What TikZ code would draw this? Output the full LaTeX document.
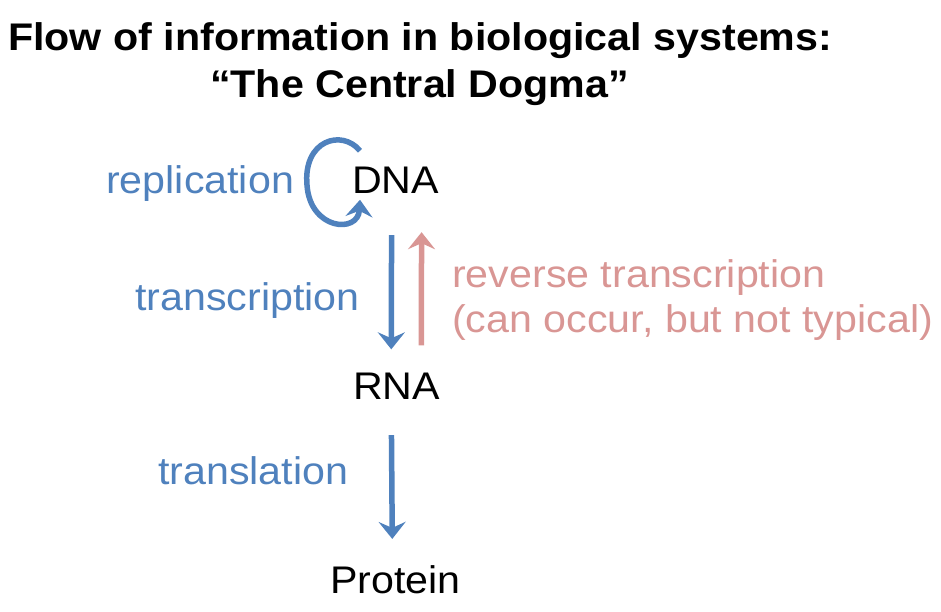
\documentclass[tikz,border=0pt]{standalone}
\usepackage{fontspec}
\setmainfont{Liberation Sans}[FakeStretch=1.07]
\usetikzlibrary{positioning}
\usetikzlibrary{arrows.meta}

\definecolor{flowblue}{RGB}{79,129,189}
\definecolor{flowpink}{RGB}{217,150,148}

\tikzset{
 word/.style={anchor=base west,inner sep=0pt,font=\fontsize{38.5}{45}\selectfont},
 headline/.style={word,font=\fontsize{38.5}{45}\selectfont\bfseries},
 flow/.style={draw=flowblue,line width=5.5pt,-{Stealth[length=17pt,width=27pt,inset=6pt]}},
 backflow/.style={flow,draw=flowpink}
}

\begin{document}
\begin{tikzpicture}[x=1pt,y=1pt]
 \useasboundingbox (0,0) rectangle (941,-611);
 \node[headline] (title1) at (8,-50) {Flow of information in biological systems:};
 \node[headline] (title2) at (210,-97) {``The Central Dogma''};
 \node[word] (dna) at (352,-193) {DNA};
 \node[word] (rna) at (353,-399) {RNA};
 \node[word] (protein) at (330,-593) {Protein};
 \node[word,text=flowblue] (repl) at (106,-193) {replication};
 \node[word,text=flowblue] (transcr) at (135,-310) {transcription};
 \node[word,text=flowblue] (transl) at (158,-484) {translation};
 \node[word,text=flowpink] (revtr) at (452,-287) {reverse transcription};
 \node[word,text=flowpink] (revnote) at (452,-332) {(can occur, but not typical)};
 % replication loop
 \draw[flow] ([shift={(8,29)}]dna.west) .. controls +(-18,22) and (303,-140) .. (307,-185)
  .. controls (310,-230) and (358,-234) .. ([shift={(8,-20)}]dna.west);
 \draw[flow,shorten <=42pt,shorten >=23pt] ([xshift=-4pt]dna.south) -- ([xshift=-5.5pt]rna.north);
 \draw[backflow,shorten <=27pt,shorten >=39pt] ([xshift=24.5pt]rna.north) -- ([xshift=26pt]dna.south);
 \draw[flow,shorten <=36pt,shorten >=26pt] ([xshift=-5.5pt]rna.south) -- ([xshift=-3pt]protein.north);
\end{tikzpicture}
\end{document}
